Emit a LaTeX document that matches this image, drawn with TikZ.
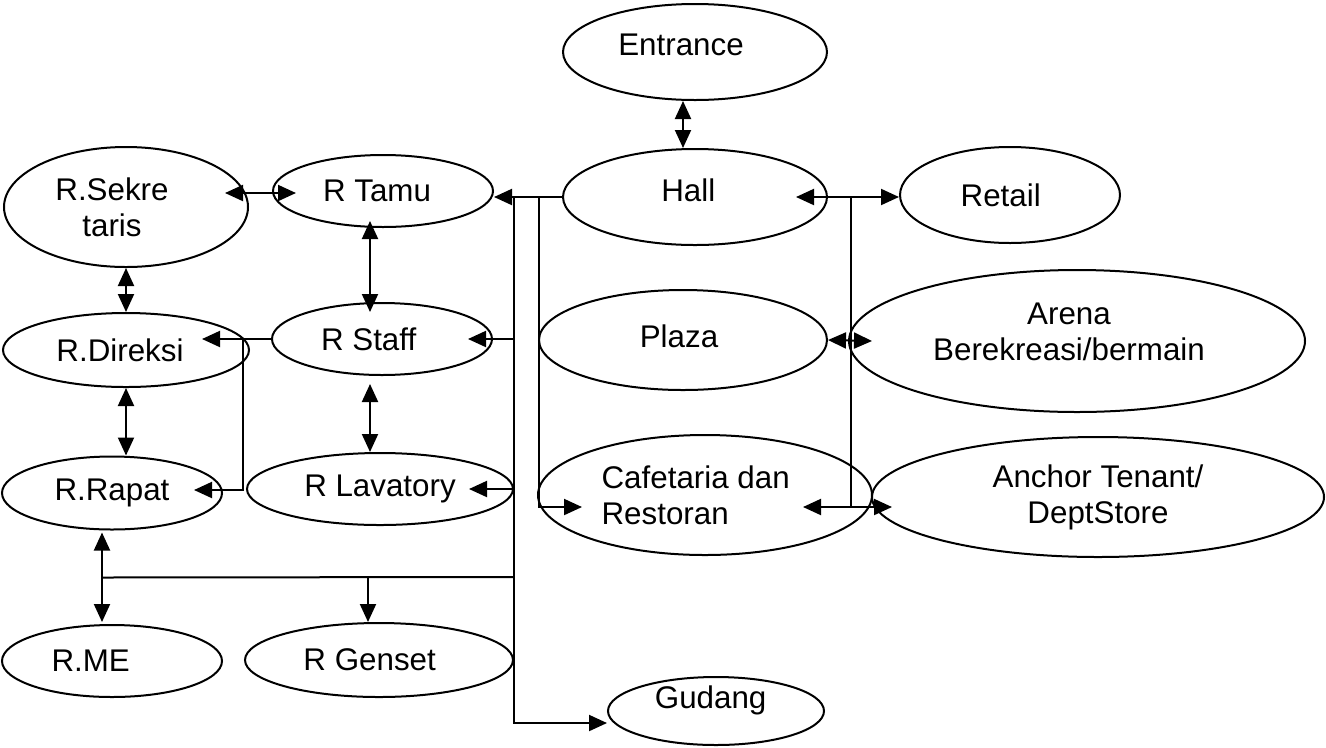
\documentclass[tikz,border=0pt]{standalone}
\usepackage{fontspec}
\setmainfont{Liberation Sans}
\usetikzlibrary{shapes.geometric,arrows.meta,calc}

\begin{document}
\begin{tikzpicture}[x=0.75pt,y=-0.75pt,
  font=\fontsize{23.5pt}{27pt}\selectfont,
  room/.style 2 args={draw, ellipse, line width=1.5pt, inner sep=0pt,
    minimum width={#1*0.75pt}, minimum height={#2*0.75pt}},
  caption/.style={align=center, inner sep=0pt},
  link/.style={line width=1.5pt},
  oneway/.style={link, -{Triangle[length=13.5pt,width=12pt]}},
  twoway/.style={link, {Triangle[length=13.5pt,width=12pt]}-{Triangle[length=13.5pt,width=12pt]}}]

\useasboundingbox (0,0) rectangle (1326,747);

% ---- rooms ----
\node[room={264}{96}, label={[caption,xshift=-10.5pt,yshift=5pt]center:Entrance}] (Entrance) at (695,52) {};
\node[room={264}{96}, label={[caption,xshift=-5pt,yshift=5pt]center:Hall}] (Hall) at (695,197) {};
\node[room={220}{96}, label={[caption,xshift=-7pt]center:Retail}] (Retail) at (1010,195) {};

\node[room={244}{120}, label={[caption,xshift=-10.5pt]center:R.Sekre\\taris}] (Sekre) at (126,207) {};
\node[room={220}{72}, label={[caption,xshift=-4.5pt]center:R Tamu}] (Tamu) at (383,191) {};

\node[room={246}{74}, label={[caption,xshift=-4.5pt]center:R.Direksi}] (Direksi) at (126,350) {};
\node[room={220}{72}, label={[caption,xshift=-10pt]center:R Staff}] (Staff) at (382,339) {};
\node[room={288}{100}, label={[caption,xshift=-3pt,yshift=3pt]center:Plaza}] (Plaza) at (683,340) {};
\node[room={456}{142}, label={[caption,xshift=-6pt,yshift=7pt]center:Arena\\Berekreasi/bermain}] (Arena) at (1077,341) {};

\node[room={220}{73}, label={[caption]center:R.Rapat}] (Rapat) at (112,493) {};
\node[room={266}{72}, label={[caption]center:R Lavatory}] (Lavatory) at (380,489) {};
\node[room={334}{120}, label={[caption,align=left,xshift=-7pt]center:Cafetaria dan\\Restoran}] (Cafe) at (705,495) {};
\node[room={452}{120}, label={[caption]center:Anchor Tenant/\\DeptStore}] (Anchor) at (1098,497) {};

\node[room={220}{72}, label={[caption,xshift=-16pt]center:R.ME}] (RME) at (112,661) {};
\node[room={268}{74}, label={[caption,xshift=-7pt]center:R Genset}] (Genset) at (379,660) {};
\node[room={216}{68}, label={[caption,xshift=-4pt,yshift=8pt]center:Gudang}] (Gudang) at (716,711) {};

% ---- bus junctions ----
\coordinate (busA) at ($(Hall.west)+(-48,0)$);
\coordinate (busB) at ($(Hall.west)+(-23,0)$);
\coordinate (busR) at ($(Hall.east)+(23,0)$);
\coordinate (lowR) at (busA |- 0,577);
\coordinate (lowL) at ($(Rapat.south)+(-10,47)$);
\coordinate (loop) at ($(Staff.west -| Direksi.east)+(-7,0)$);

% ---- office wing ----
\draw[twoway] ([xshift=-9pt]Entrance.south) -- ([xshift=-9pt]Hall.north);
\draw[twoway] ([shift={(-24,-14)}]Sekre.east) -- ([shift={(24,2)}]Tamu.west);
\draw[twoway] ([shift={(-13,-7)}]Tamu.south) -- ([shift={(-12,10)}]Staff.north);
\draw[twoway] ([shift={(-12,8)}]Staff.south) -- ([shift={(-10,0)}]Lavatory.north);
\draw[twoway] (Sekre.south) -- (Direksi.north);
\draw[twoway] (Direksi.south) -- ([shift={(14,0)}]Rapat.north);
\draw[oneway] (Staff.west) -- ($(Staff.west -| Direksi.east)+(-48,0)$);
\draw[oneway] (loop) |- ($(Rapat.east)+(-29,-3)$);

% ---- hall distribution ----
\draw[oneway] (Hall.west) -- (Hall.west -| Tamu.east);
\draw[oneway] (busA) |- ($(Gudang.west)+(0,12)$);
\draw[oneway] (busA |- Staff.east) -- ($(Staff.east)+(-25,0)$);
\draw[oneway] (busA |- Lavatory.east) -- ($(Lavatory.east)+(-45,0)$);
\draw[link] (lowR) -- (lowL);
\draw[oneway] ($(lowR -| Genset.north)+(-11,0)$) -- ($(Genset.north)+(-11,0)$);
\draw[twoway] ($(Rapat.south)+(-10,2)$) -- ($(RME.north)+(-10,-2)$);
\draw[oneway] (busB) |- ($(Cafe.west)+(45,12)$);

% ---- commercial wing ----
\draw[twoway] ($(Hall.east)+(-32,0)$) -- (Hall.east -| Retail.west);
\draw[link] (busR) -- (busR |- 0,507);
\draw[twoway] (Plaza.east) -- ($(Arena.west)+(24,0)$);
\draw[twoway] ($(Cafe.east)+(-70,12)$) -- ($(Anchor.west)+(21,10)$);
\end{tikzpicture}
\end{document}
